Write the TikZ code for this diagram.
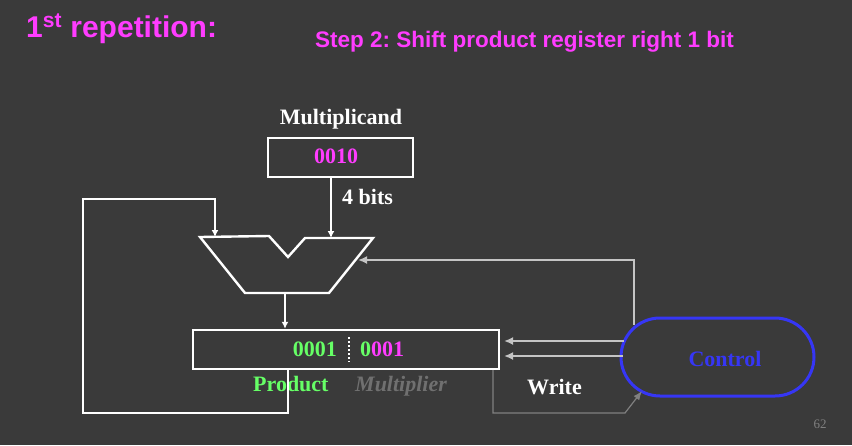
\documentclass[tikz,border=0pt]{standalone}
\usepackage{fontspec}
\setmainfont{Liberation Serif}
\setsansfont{Liberation Sans}
\usepackage{tikz}
\usetikzlibrary{arrows.meta}
\frenchspacing
\definecolor{bg}{HTML}{3A3A3A}
\definecolor{mag}{HTML}{FF3CFF}
\definecolor{grn}{HTML}{66FF66}
\definecolor{ctlblue}{HTML}{3636F5}
\definecolor{lgray}{HTML}{C4C4C4}
\definecolor{dgray}{HTML}{808080}
\definecolor{mgray}{HTML}{707070}
\tikzset{
  reg/.style={draw=white, line width=2.4pt, minimum height=39pt, inner sep=0pt},
  lbl/.style={font=\fontsize{22}{24}\selectfont\bfseries, inner sep=0pt},
  wire/.style={white, line width=2pt, -{Latex[length=7pt,width=7pt]}},
  ctl/.style={lgray, line width=2.6pt, -{Latex[length=9pt,width=8pt]}}
}
\begin{document}
\begin{tikzpicture}[x=1pt,y=-1pt]
\fill[bg] (0,0) rectangle (852,445);
% titles
\node[anchor=base west, inner sep=0pt, mag, font=\sffamily\bfseries\fontsize{30}{31}\selectfont] (title) at (26,37) {1\textsuperscript{st} repetition:};
\node[anchor=base west, inner sep=0pt, mag, font=\sffamily\bfseries\fontsize{22.5}{24}\selectfont] (step) at (315,47) {Step 2: Shift product register right 1 bit};
% multiplicand
\node[lbl, white, anchor=base] (mclbl) at (341,124) {Multiplicand};
\node[reg, minimum width=145pt] (mcand) at (340.5,157.5) {};
\node[lbl, mag, anchor=base] (mcval) at (336,163) {0010};
\node[lbl, white, anchor=base west] (bits) at (342,204) {4 bits};
% ALU
\coordinate (aluA) at (331,238);
\coordinate (aluB) at (215,237);
\coordinate (aluC) at (285,293);
\coordinate (aluD) at (358,260);
\draw[white, line width=2.4pt, line join=miter] (200,237) -- (269,236) -- (288,257) -- (305,238) -- (373,238) -- (329,293) -- (245,293) -- cycle;
% product register
\node[reg, minimum width=306pt] (prod) at (346,349.5) {};
\node[lbl, grn, anchor=base east] (hi) at (337,356) {0001};
\node[lbl, anchor=base west] (lo) at (360,356) {\textcolor{grn}{0}\textcolor{mag}{001}};
\draw[white, line width=2.4pt, dash pattern=on 2pt off 2pt] (349,337) -- (349,362);
\node[lbl, grn, anchor=base west] (plbl) at (253,391) {Product};
\node[lbl, mgray, anchor=base west, font=\fontsize{22}{24}\selectfont\bfseries\itshape] (mlbl) at (355,391) {Multiplier};
% control
\node[draw=ctlblue, line width=3pt, rounded corners=39pt, minimum width=193pt, minimum height=78pt] (ctrl) at (717.5,357) {};
\node[lbl, ctlblue] (ctext) at (725,359) {Control};
\node[lbl, white, anchor=base west] (write) at (527,394) {Write};
\node[dgray, font=\fontsize{13}{14}\selectfont, anchor=base] (page) at (820,428) {62};
% connections
\coordinate (wr1) at (504,341);
\coordinate (wr2) at (504,356);
\draw[wire] (mcand.south -| aluA) -- (aluA);
\draw[wire] (aluC) -- (prod.north -| aluC);
\draw[white, line width=2pt] (prod.south -| 288,0) -- (288,413) -- (83,413) -- (83,199) -- (215,199);
\draw[wire] (215,198) -- (aluB);
\draw[ctl, line width=2pt] (634,325) -- (634,260) -- (aluD);
\draw[ctl] (624,341) -- (wr1);
\draw[ctl] (623,356) -- (wr2);
\draw[dgray, line width=1.2pt, -{Latex[length=9pt,width=7pt]}] (493,370) -- (493,413) -- (625,413) -- (642,391);
\end{tikzpicture}
\end{document}
